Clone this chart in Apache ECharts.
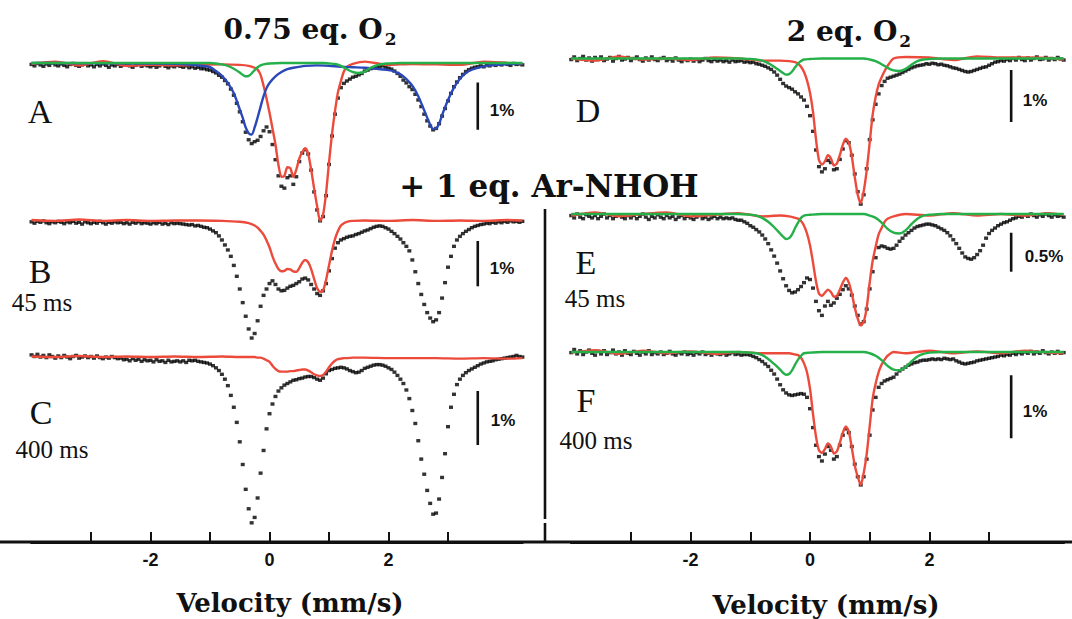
<!DOCTYPE html>
<html><head><meta charset="utf-8">
<script src="https://cdn.jsdelivr.net/npm/echarts@6/dist/echarts.min.js"></script>
<style>html,body{margin:0;padding:0;background:#fff}#c{width:1072px;height:619px}</style>
</head><body><div id="c"></div>
<script>
// ---------------- DATA (absorption in %) ----------------
// measured spectra: velocity grid -4.00 ... 4.25 mm/s, step 0.05
const velStart = -4.0, velStep = 0.05;

const blackA = [
0.03,0.06,0.01,0.04,0.07,0.02,0.05,0.00,0.04,0.06,
0.02,0.05,0.08,0.03,0.01,0.05,0.07,0.04,0.02,0.06,
0.04,0.08,0.03,0.06,0.02,0.05,0.09,0.04,0.06,0.03,
0.07,0.04,0.02,0.06,0.09,0.05,0.03,0.07,0.04,0.06,
0.08,0.05,0.09,0.06,0.03,0.07,0.10,0.06,0.08,0.05,
0.07,0.09,0.06,0.10,0.08,0.11,0.09,0.12,0.12,0.14,
0.15,0.18,0.21,0.26,0.30,0.37,0.44,0.55,0.68,0.85,
1.03,1.24,1.46,1.62,1.70,1.66,1.63,1.55,1.43,1.35,
1.45,1.72,2.04,2.38,2.60,2.64,2.42,2.38,2.56,2.40,
2.08,1.90,1.83,1.92,2.26,2.72,3.10,3.33,3.24,2.80,
2.14,1.54,1.08,0.74,0.52,0.43,0.38,0.34,0.30,0.28,
0.25,0.22,0.17,0.15,0.12,0.10,0.09,0.08,0.06,0.09,
0.11,0.13,0.17,0.22,0.28,0.36,0.42,0.50,0.56,0.66,
0.78,0.92,1.08,1.22,1.33,1.41,1.38,1.28,1.12,0.96,
0.80,0.64,0.50,0.40,0.31,0.24,0.18,0.14,0.11,0.09,
0.08,0.06,0.08,0.05,0.06,0.03,0.05,0.02,0.04,0.01,
0.03,0.05,0.01,0.03,0.02,0.04];

const blackB = [
0.04,0.07,0.03,0.05,0.02,0.06,0.08,0.04,0.06,0.03,
0.05,0.08,0.04,0.06,0.03,0.07,0.05,0.09,0.04,0.06,
0.08,0.05,0.07,0.03,0.06,0.09,0.05,0.07,0.04,0.06,
0.05,0.08,0.06,0.09,0.05,0.07,0.04,0.08,0.06,0.07,
0.09,0.06,0.08,0.05,0.09,0.07,0.10,0.06,0.08,0.07,
0.08,0.09,0.10,0.11,0.10,0.13,0.12,0.14,0.16,0.17,
0.20,0.24,0.28,0.35,0.44,0.55,0.66,0.80,1.00,1.24,
1.52,1.82,2.12,2.40,2.60,2.50,2.22,1.90,1.66,1.52,
1.40,1.34,1.42,1.52,1.56,1.55,1.50,1.46,1.44,1.40,
1.36,1.30,1.28,1.32,1.42,1.52,1.62,1.66,1.56,1.40,
1.12,0.85,0.62,0.50,0.44,0.41,0.38,0.36,0.35,0.32,
0.30,0.27,0.24,0.22,0.19,0.16,0.14,0.13,0.14,0.17,
0.20,0.25,0.30,0.36,0.42,0.50,0.58,0.68,0.88,1.14,
1.40,1.64,1.86,2.04,2.16,2.24,2.20,2.04,1.72,1.38,
1.04,0.80,0.58,0.44,0.36,0.30,0.25,0.21,0.17,0.14,
0.12,0.10,0.09,0.07,0.08,0.05,0.07,0.04,0.06,0.03,
0.05,0.02,0.04,0.03,0.05,0.03];

const blackC = [
-0.03,0.00,-0.04,0.01,-0.02,0.02,-0.03,0.00,0.03,-0.01,
0.02,-0.02,0.01,0.04,0.00,-0.02,0.03,0.01,-0.01,0.02,
0.00,0.03,-0.01,0.02,0.04,0.01,0.03,0.00,0.02,0.04,
0.03,0.06,0.05,0.08,0.04,0.07,0.05,0.09,0.06,0.08,
0.07,0.10,0.06,0.09,0.08,0.11,0.07,0.10,0.09,0.08,
0.10,0.08,0.11,0.07,0.08,0.07,0.09,0.10,0.11,0.12,
0.14,0.17,0.21,0.26,0.33,0.42,0.54,0.72,0.94,1.22,
1.58,2.00,2.46,2.82,3.08,2.98,2.62,2.16,1.74,1.34,
1.06,0.88,0.74,0.64,0.58,0.53,0.50,0.47,0.44,0.43,
0.41,0.40,0.38,0.37,0.37,0.39,0.42,0.44,0.40,0.32,
0.26,0.24,0.22,0.21,0.20,0.21,0.23,0.26,0.28,0.30,
0.29,0.26,0.22,0.20,0.18,0.16,0.15,0.15,0.16,0.18,
0.21,0.24,0.29,0.35,0.42,0.50,0.62,0.78,1.00,1.24,
1.56,1.90,2.18,2.48,2.72,2.92,2.90,2.64,2.24,1.80,
1.30,0.94,0.70,0.52,0.42,0.35,0.30,0.26,0.23,0.20,
0.17,0.14,0.12,0.10,0.09,0.08,0.06,0.05,0.04,0.03,
0.02,0.01,0.00,-0.02,0.00,0.01];

const blackD = [
0.02,-0.03,0.04,0.00,-0.04,0.03,-0.01,0.05,-0.02,0.02,
-0.03,0.04,0.01,-0.02,0.05,0.00,-0.04,0.03,0.01,-0.02,
0.04,0.00,-0.03,0.02,0.05,-0.01,0.03,-0.03,0.02,0.04,
0.00,-0.02,0.04,0.01,0.05,-0.01,0.03,0.06,0.02,0.04,
0.01,0.05,0.02,0.06,0.03,0.00,0.04,0.06,0.02,0.05,
0.03,0.06,0.04,0.07,0.03,0.06,0.05,0.04,0.07,0.06,
0.08,0.07,0.10,0.11,0.13,0.15,0.18,0.21,0.26,0.32,
0.40,0.48,0.53,0.56,0.59,0.64,0.68,0.74,0.80,0.92,
1.10,1.40,1.76,2.08,2.18,2.12,1.96,2.00,2.14,2.12,
1.94,1.74,1.58,1.62,1.86,2.22,2.56,2.80,2.62,2.12,
1.56,1.18,0.88,0.68,0.52,0.44,0.38,0.36,0.34,0.32,
0.30,0.27,0.24,0.21,0.18,0.16,0.14,0.13,0.12,0.10,
0.11,0.09,0.10,0.12,0.11,0.13,0.14,0.16,0.18,0.19,
0.21,0.23,0.25,0.26,0.25,0.23,0.21,0.19,0.17,0.16,
0.13,0.10,0.07,0.06,0.04,0.05,0.02,0.04,0.00,0.03,
-0.02,0.02,0.04,-0.01,0.03,0.00,-0.03,0.02,0.01,-0.02,
0.03,0.00,0.02,-0.02,0.01,0.03];

const blackE = [
0.02,0.05,0.00,0.04,0.06,0.01,0.03,0.05,0.02,0.06,
0.03,0.00,0.05,0.02,0.06,0.03,0.01,0.04,0.06,0.02,
0.05,0.02,0.06,0.03,0.00,0.04,0.07,0.03,0.05,0.01,
0.04,0.06,0.02,0.05,0.03,0.07,0.04,0.02,0.06,0.03,
0.05,0.07,0.04,0.02,0.06,0.04,0.07,0.05,0.03,0.06,
0.04,0.06,0.05,0.06,0.05,0.07,0.08,0.08,0.10,0.12,
0.15,0.17,0.20,0.23,0.27,0.32,0.38,0.46,0.54,0.63,
0.73,0.83,0.92,0.98,1.01,1.00,0.97,0.93,0.88,0.82,
0.84,0.95,1.12,1.24,1.30,1.18,1.12,1.17,1.14,1.08,
1.03,0.97,0.92,0.96,1.04,1.18,1.30,1.41,1.38,1.22,
0.96,0.74,0.56,0.43,0.41,0.42,0.44,0.45,0.44,0.40,
0.35,0.31,0.27,0.24,0.21,0.18,0.16,0.15,0.14,0.13,
0.13,0.14,0.15,0.17,0.19,0.21,0.24,0.28,0.33,0.38,
0.44,0.50,0.55,0.57,0.58,0.56,0.52,0.47,0.40,0.31,
0.25,0.21,0.18,0.15,0.13,0.11,0.10,0.08,0.06,0.05,
0.03,0.04,0.01,0.03,0.00,0.02,0.04,0.01,0.03,0.00,
0.02,0.04,0.01,0.03,0.02,0.04];

const blackF = [
0.01,-0.04,0.03,-0.02,0.04,0.00,-0.03,0.02,0.05,-0.01,
0.03,-0.02,0.04,0.01,-0.03,0.03,0.00,0.05,-0.02,0.02,
0.04,-0.01,0.02,0.05,0.00,0.03,-0.02,0.04,0.01,0.03,
0.00,0.04,0.02,-0.01,0.03,0.05,0.01,0.03,0.00,0.04,
0.02,0.05,0.01,0.03,0.00,0.04,0.02,0.05,0.01,0.03,
0.04,0.02,0.05,0.03,0.01,0.04,0.03,0.05,0.04,0.04,
0.05,0.07,0.09,0.12,0.15,0.19,0.23,0.29,0.35,0.43,
0.52,0.60,0.65,0.68,0.69,0.68,0.67,0.66,0.67,0.72,
0.90,1.20,1.48,1.66,1.73,1.62,1.50,1.56,1.70,1.66,
1.48,1.32,1.22,1.28,1.50,1.78,1.98,2.11,1.98,1.70,
1.32,0.92,0.72,0.56,0.50,0.46,0.44,0.42,0.40,0.35,
0.30,0.27,0.24,0.21,0.19,0.17,0.16,0.14,0.13,0.13,
0.12,0.11,0.12,0.11,0.12,0.10,0.11,0.12,0.11,0.14,
0.16,0.18,0.19,0.18,0.17,0.16,0.14,0.13,0.12,0.11,
0.10,0.09,0.08,0.07,0.05,0.06,0.04,0.05,0.02,0.04,
0.01,0.03,0.00,0.02,-0.01,0.03,0.00,0.02,-0.02,0.01,
0.03,0.00,0.02,-0.01,0.02,0.01];

// red spectra (fitted / reference component)
const redV = [-4.0,-3.6,-3.2,-2.8,-2.4,-2.0,-1.6,-1.2,-0.8,
 -0.5,-0.35,-0.25,-0.2,-0.15,-0.1,-0.05,
 0.0,0.05,0.1,0.15,0.2,0.25,0.3,0.35,0.4,0.45,0.5,0.55,0.6,0.65,0.7,0.75,0.8,0.85,0.9,0.95,1.0,1.05,1.1,1.15,1.2,1.25,1.3,
 1.4,1.6,2.0,2.4,2.8,3.2,3.6,4.0,4.25];
const redA = [0.02,-0.03,0.05,-0.04,0.06,0.04,0.05,0.04,0.03,
 0.04,0.06,0.10,0.14,0.25,0.48,0.75,
 1.05,1.38,1.72,2.15,2.40,2.38,2.20,2.22,2.40,2.25,2.02,1.88,1.80,1.92,2.25,2.65,3.02,3.33,3.20,2.75,2.10,1.50,1.02,0.62,0.38,0.18,0.08,
 0.02,-0.03,0.04,0.02,0.03,0.04,-0.03,0.00,0.02];
const redB = [0.00,0.02,-0.01,0.02,0.00,0.02,0.01,0.01,0.02,
 0.04,0.07,0.12,0.17,0.24,0.32,0.45,
 0.60,0.80,0.96,1.08,1.13,1.12,1.08,1.09,1.13,1.14,1.06,0.94,0.88,0.93,1.08,1.30,1.50,1.58,1.55,1.32,1.00,0.68,0.42,0.24,0.12,0.07,0.04,
 0.02,0.01,0.02,0.00,0.02,0.01,0.02,0.00,0.01];
const redC = [0.00,0.01,-0.01,0.01,0.00,0.01,0.00,0.01,0.00,
 0.01,0.01,0.01,0.02,0.02,0.04,0.07,
 0.10,0.17,0.23,0.27,0.28,0.28,0.28,0.27,0.27,0.26,0.25,0.24,0.24,0.26,0.29,0.33,0.35,0.36,0.34,0.28,0.20,0.13,0.08,0.05,0.04,0.03,0.03,
 0.02,0.02,0.03,0.03,0.03,0.04,0.03,0.04,0.03];
const redD = [0.00,0.04,-0.04,0.02,0.00,0.03,-0.02,0.00,0.04,
 0.04,0.05,0.07,0.10,0.16,0.26,0.42,
 0.66,1.02,1.55,1.95,2.04,1.98,1.86,1.92,2.06,2.02,1.86,1.66,1.54,1.62,1.88,2.28,2.62,2.78,2.55,2.15,1.62,1.08,0.74,0.50,0.36,0.24,0.14,
 0.00,-0.03,-0.02,0.03,-0.04,-0.02,-0.02,-0.01,0.02];
const redE = [0.02,-0.02,0.03,0.00,-0.02,0.03,0.01,-0.01,0.03,
 0.02,0.03,0.05,0.06,0.09,0.15,0.25,
 0.40,0.62,0.86,1.02,1.05,1.01,0.97,1.00,1.06,1.05,0.97,0.88,0.82,0.88,1.02,1.20,1.34,1.43,1.38,1.20,0.88,0.60,0.42,0.26,0.18,0.10,0.06,
 0.03,0.00,0.02,-0.01,0.02,0.00,0.02,-0.01,0.01];
const redF = [0.01,-0.03,0.03,-0.02,0.02,-0.01,0.03,0.00,0.02,
 0.02,0.02,0.04,0.05,0.09,0.18,0.32,
 0.58,0.98,1.34,1.56,1.60,1.54,1.45,1.50,1.61,1.58,1.44,1.28,1.18,1.26,1.52,1.80,1.98,2.11,1.92,1.62,1.18,0.74,0.50,0.32,0.20,0.12,0.06,
 0.00,0.02,-0.02,0.02,-0.01,0.02,-0.02,0.01,0.02];

// blue component (panel A)
const blueV = [-4.0,-2.0,-1.5,-1.2,-1.0,-0.9,-0.8,-0.7,-0.6,-0.5,-0.45,-0.4,-0.35,-0.3,-0.25,-0.2,-0.15,-0.1,-0.05,0.0,
 0.1,0.2,0.3,0.4,0.6,0.8,1.0,1.2,1.4,1.6,1.8,2.0,2.1,2.2,2.3,2.4,2.5,2.6,2.7,2.75,2.8,2.85,2.9,3.0,3.1,3.2,3.3,3.4,3.6,3.8,4.25];
const blueA = [0.00,0.01,0.02,0.05,0.09,0.17,0.27,0.42,0.64,0.98,1.16,1.36,1.48,1.51,1.36,1.15,0.92,0.70,0.53,0.42,
 0.28,0.19,0.13,0.10,0.06,0.05,0.06,0.08,0.09,0.10,0.12,0.15,0.18,0.24,0.34,0.48,0.70,1.00,1.30,1.39,1.38,1.28,1.10,0.78,0.52,0.33,0.21,0.14,0.07,0.04,0.01];

// green component (panels A, D, E, F)
const greenV = [-4.0,-1.2,-1.0,-0.9,-0.8,-0.7,-0.6,-0.5,-0.45,-0.4,-0.35,-0.3,-0.25,-0.2,-0.15,-0.1,0.0,0.2,0.6,0.9,
 1.0,1.1,1.2,1.3,1.4,1.5,1.6,1.7,1.8,1.9,2.0,2.2,4.25];
const greenA = [0,0,0,0.01,0.03,0.06,0.12,0.20,0.25,0.28,0.27,0.22,0.15,0.09,0.05,0.03,0.01,0,0,0,
 0.01,0.02,0.06,0.13,0.19,0.21,0.18,0.10,0.05,0.02,0.01,0,0];
const greenD = [0,0,0.01,0.02,0.04,0.09,0.16,0.24,0.28,0.31,0.30,0.25,0.17,0.10,0.05,0.02,0.01,0,0,0,
 0.02,0.05,0.11,0.18,0.23,0.24,0.20,0.12,0.05,0.02,0.01,0,0];
const greenE = [0,0,0.01,0.02,0.05,0.10,0.17,0.25,0.29,0.32,0.31,0.26,0.18,0.11,0.05,0.02,0.01,0,0,0,
 0.02,0.05,0.11,0.19,0.24,0.25,0.21,0.13,0.06,0.02,0.01,0,0];
const greenF = [0,0,0.01,0.02,0.05,0.11,0.19,0.28,0.33,0.36,0.35,0.29,0.20,0.12,0.06,0.02,0.01,0,0,0,
 0.02,0.06,0.13,0.22,0.28,0.29,0.24,0.15,0.07,0.03,0.01,0,0];

// scale bars (%), axis ticks
const scaleBars = [1, 1, 1, 1, 0.5, 1];
const scaleLabels = ['1%', '1%', '1%', '1%', '0.5%', '1%'];
const tickValues = [-3, -2, -1, 0, 1, 2, 3];
const tickLabelValues = [-2, 0, 2];

// ---------------- LAYOUT ----------------
const vel = blackA.map((_, k) => +(velStart + k * velStep).toFixed(2));
const RED = '#ec4a3b', BLUE = '#2a48b8', GREEN = '#25b04a', INK = '#111';
const X = [{left: 31.5, width: 490.9, barV: 3.50},
           {left: 571.2, width: 492.5, barV: 3.37}];
const panels = [
  {side:0, base:63,    px:47.4, barTop:0.41, black:blackA, red:redA, blue:blueA, green:greenA},
  {side:0, base:220,   px:45.4, barTop:0.46, black:blackB, red:redB},
  {side:0, base:356.5, px:54,   barTop:0.64, black:blackC, red:redC},
  {side:1, base:58.5,  px:52,   barTop:0.22, black:blackD, red:redD, green:greenD},
  {side:1, base:214,   px:78,   barTop:0.24, black:blackE, red:redE, green:greenE},
  {side:1, base:352,   px:63,   barTop:0.37, black:blackF, red:redF, green:greenF}
];
const YMIN = -0.6, YMAX = 4.0;
const grid = [], xAxis = [], yAxis = [], series = [];
panels.forEach((p, i) => {
  const s = X[p.side];
  grid.push({left: s.left, width: s.width, top: p.base + YMIN * p.px, height: (YMAX - YMIN) * p.px});
  xAxis.push({gridIndex: i, type: 'value', min: -4, max: 4.25, show: false});
  yAxis.push({gridIndex: i, type: 'value', min: YMIN, max: YMAX, inverse: true, show: false});
  series.push({type: 'scatter', xAxisIndex: i, yAxisIndex: i, silent: true, z: 2,
    data: vel.map((v, k) => [v, p.black[k]]), symbol: 'rect', symbolSize: [4, 3.4],
    itemStyle: {color: '#000'}});
  series.push({type: 'line', xAxisIndex: i, yAxisIndex: i, silent: true, z: 3,
    data: redV.map((v, k) => [v, p.red[k]]), showSymbol: false, smooth: 0.25,
    lineStyle: {color: RED, width: 2.4}});
  if (p.blue) series.push({type: 'line', xAxisIndex: i, yAxisIndex: i, silent: true, z: 4,
    data: blueV.map((v, k) => [v, p.blue[k]]), showSymbol: false, smooth: 0.3,
    lineStyle: {color: BLUE, width: 2.4}});
  if (p.green) series.push({type: 'line', xAxisIndex: i, yAxisIndex: i, silent: true, z: 5,
    data: greenV.map((v, k) => [v, p.green[k]]), showSymbol: false, smooth: 0.35,
    lineStyle: {color: GREEN, width: 2.4}});
  series.push({type: 'line', xAxisIndex: i, yAxisIndex: i, silent: true, z: 6,
    data: [[s.barV, p.barTop], [s.barV, p.barTop + scaleBars[i]]], showSymbol: false,
    lineStyle: {color: INK, width: 2.6}});
});
// bottom velocity axes: ticks every 1 mm/s (-3..3), labels at -2, 0, 2
[0, 1].forEach(side => {
  const s = X[side], gi = grid.length;
  grid.push({left: s.left, width: s.width, top: 520, height: 22});
  xAxis.push({gridIndex: gi, type: 'value', min: -4, max: 4.25, interval: 2, position: 'bottom',
    axisLine: {show: true, lineStyle: {color: INK, width: 3}},
    axisTick: {show: true, inside: true, length: 10, customValues: tickValues, lineStyle: {color: INK, width: 2}},
    axisLabel: {show: true, margin: 9, color: INK, showMinLabel: false, showMaxLabel: false,
      formatter: v => (tickLabelValues.indexOf(v) >= 0 ? String(v) : ''),
      fontFamily: 'Liberation Sans', fontWeight: 'bold', fontSize: 18},
    splitLine: {show: false}});
  yAxis.push({gridIndex: gi, type: 'value', show: false});
});

const serifB = 'DejaVu Serif';
function txt(text, x, y, font, size, weight) {
  return {type: 'text', silent: true, z: 10, style: {text, x, y, fill: INK, fontFamily: font,
    fontSize: size, fontWeight: weight || 'normal', align: 'center', verticalAlign: 'middle'}};
}
function subTxt(main, sub, x, y, size) {
  return {type: 'text', silent: true, z: 10, style: {text: '{a|' + main + '}{s|' + sub + '}', x, y,
    fill: INK, align: 'center', verticalAlign: 'middle',
    rich: {a: {fontFamily: serifB, fontWeight: 'bold', fontSize: size, fill: INK},
           s: {fontFamily: serifB, fontWeight: 'bold', fontSize: Math.round(size * 0.62), fill: INK, padding: [20, 0, 0, 2]}}}};
}
const graphic = [
  {type: 'line', silent: true, shape: {x1: 0, y1: 542, x2: 1072, y2: 542}, style: {stroke: INK, lineWidth: 3}},
  {type: 'line', silent: true, shape: {x1: 545, y1: 209, x2: 545, y2: 519}, style: {stroke: INK, lineWidth: 2.6}},
  {type: 'line', silent: true, shape: {x1: 545, y1: 523, x2: 545, y2: 542}, style: {stroke: INK, lineWidth: 2.6}},
  subTxt('0.75 eq. O', '2', 310, 29, 28),
  subTxt('2 eq. O', '2', 849, 31, 28),
  txt('+ 1 eq. Ar-NHOH', 549, 186, serifB, 31, 'bold'),
  txt('A', 40, 111, 'Liberation Serif', 34), txt('B', 40, 271, 'Liberation Serif', 34),
  txt('C', 41, 412, 'Liberation Serif', 34), txt('D', 588, 110, 'Liberation Serif', 34),
  txt('E', 586, 262, 'Liberation Serif', 34), txt('F', 586, 400, 'Liberation Serif', 34),
  txt('45 ms', 42, 302, 'Liberation Serif', 25), txt('400 ms', 52, 449, 'Liberation Serif', 25),
  txt('45 ms', 595, 298, 'Liberation Serif', 25), txt('400 ms', 596, 440, 'Liberation Serif', 25),
  txt(scaleLabels[0], 502, 110, 'Liberation Sans', 17, 'bold'),
  txt(scaleLabels[1], 502, 268, 'Liberation Sans', 17, 'bold'),
  txt(scaleLabels[2], 503, 420, 'Liberation Sans', 17, 'bold'),
  txt(scaleLabels[3], 1035, 100, 'Liberation Sans', 17, 'bold'),
  txt(scaleLabels[4], 1044, 256, 'Liberation Sans', 17, 'bold'),
  txt(scaleLabels[5], 1035, 411, 'Liberation Sans', 17, 'bold'),
  txt('Velocity (mm/s)', 290, 603, serifB, 26, 'bold'),
  txt('Velocity (mm/s)', 826, 605, serifB, 26, 'bold')
];

const chart = echarts.init(document.getElementById('c'), null, {renderer: 'svg'});
chart.setOption({animation: false, backgroundColor: '#fff', grid, xAxis, yAxis, series, graphic});
</script></body></html>
